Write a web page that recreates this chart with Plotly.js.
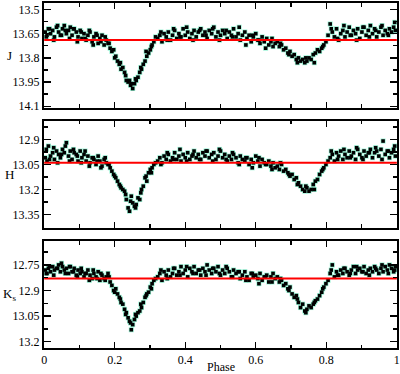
<!DOCTYPE html>
<html><head><meta charset="utf-8">
<script src="https://cdn.plot.ly/plotly-3.0.1.min.js"></script>
<style>html,body{margin:0;padding:0;background:#fff}#chart{width:400px;height:374px}</style>
</head><body><div id="chart"></div>
<script>
const phase = [
0.003,0.008,0.012,0.018,0.024,0.029,0.035,0.041,0.046,0.052,
0.057,0.063,0.069,0.074,0.079,0.085,0.091,0.096,0.102,0.107,
0.113,0.119,0.124,0.130,0.136,0.141,0.147,0.153,0.158,0.164,
0.170,0.176,0.181,0.187,
0.192,0.197,0.203,0.208,0.213,0.218,0.223,0.228,0.233,0.238,
0.242,0.247,0.251,0.256,0.261,0.266,0.271,0.276,0.281,0.286,
0.291,0.296,0.301,0.306,0.311,0.316,
0.322,0.328,0.334,0.340,0.346,0.352,0.358,0.364,0.370,0.376,
0.382,0.388,0.394,0.400,0.407,0.413,0.419,0.425,0.431,0.437,
0.444,0.450,0.456,0.462,0.468,0.475,0.481,0.487,0.493,0.500,
0.506,0.512,0.519,0.525,0.531,0.537,0.544,0.550,0.556,0.562,
0.569,0.575,0.581,0.587,0.593,0.600,0.606,0.612,0.618,0.624,
0.631,0.637,0.643,0.649,0.655,
0.661,0.667,0.673,0.679,0.685,0.691,0.697,0.703,0.709,0.715,
0.721,0.727,0.733,0.739,0.745,0.751,0.757,0.763,0.769,0.775,
0.781,0.787,0.793,0.799,0.805,
0.811,0.817,0.823,0.829,0.835,0.841,0.847,0.853,0.859,0.865,
0.871,0.877,0.883,0.889,0.895,0.901,0.907,0.913,0.919,0.925,
0.931,0.937,0.943,0.949,0.955,0.961,0.967,0.973,0.979,0.985,
0.991,0.996,
0.006,0.015,0.027,0.038,0.049,0.060,0.072,0.083,0.094,0.105,
0.116,0.128,0.139,0.150,0.161,0.173,0.184,
0.200,0.216,0.231,0.245,0.259,0.274,0.289,0.304,
0.331,0.349,0.367,0.385,0.404,0.422,0.441,0.459,0.478,0.497,
0.516,0.534,0.553,0.572,0.590,0.609,0.628,0.646,
0.670,0.694,0.718,0.742,0.766,0.790,
0.814,0.832,0.850,0.868,0.886,0.904,0.922,0.940,0.958,0.976,
0.994
];
const magJ = [
13.64,13.66,13.62,13.65,13.63,13.67,13.61,13.64,13.66,13.62,
13.60,13.65,13.63,13.61,13.66,13.62,13.64,13.67,13.63,13.68,
13.65,13.69,13.66,13.64,13.70,13.67,13.65,13.71,13.68,13.66,
13.72,13.69,13.71,13.74,
13.76,13.75,13.79,13.82,13.84,13.87,13.86,13.89,13.94,13.95,
13.94,13.96,13.99,13.96,13.94,13.92,13.89,13.87,13.84,13.82,
13.79,13.77,13.75,13.72,13.70,13.67,
13.68,13.66,13.70,13.65,13.67,13.64,13.69,13.66,13.63,13.68,
13.65,13.67,13.62,13.66,13.64,13.68,13.65,13.63,13.67,13.64,
13.62,13.66,13.64,13.68,13.63,13.65,13.61,13.67,13.64,13.66,
13.63,13.65,13.68,13.64,13.66,13.62,13.67,13.65,13.69,13.66,
13.64,13.68,13.66,13.70,13.67,13.65,13.69,13.71,13.67,13.70,
13.68,13.72,13.70,13.73,13.71,
13.70,13.73,13.72,13.75,13.74,13.77,13.76,13.79,13.78,13.81,
13.80,13.82,13.81,13.83,13.82,13.80,13.81,13.78,13.77,13.75,
13.76,13.74,13.72,13.70,13.66,
13.59,13.64,13.67,13.62,13.69,13.65,13.63,13.67,13.64,13.61,
13.66,13.63,13.65,13.62,13.68,13.64,13.61,13.66,13.63,13.60,
13.65,13.62,13.67,13.64,13.61,13.66,13.63,13.65,13.62,13.64,
13.61,13.63,
13.67,13.62,13.69,13.60,13.66,13.63,13.68,13.62,13.70,13.64,
13.68,13.63,13.72,13.66,13.70,13.67,13.71,
13.80,13.83,13.91,13.97,13.93,13.86,13.76,13.73,
13.64,13.69,13.62,13.67,13.61,13.69,13.63,13.66,13.62,13.69,
13.63,13.67,13.61,13.72,13.66,13.69,13.74,13.68,
13.71,13.78,13.83,13.80,13.83,13.73,
13.62,13.68,13.60,13.66,13.69,13.61,13.67,13.63,13.60,13.66,
13.58
];
const magH = [
13.01,13.03,12.94,13.00,12.98,13.02,12.97,12.99,13.01,12.96,
12.98,12.92,13.00,12.97,13.02,12.98,12.99,13.03,12.97,13.01,
12.99,13.03,13.00,13.04,13.01,13.02,13.05,13.00,13.03,13.06,
13.02,13.04,13.05,13.07,
13.09,13.11,13.13,13.15,13.17,13.19,13.20,13.21,13.26,13.31,
13.33,13.24,13.28,13.30,13.29,13.25,13.26,13.20,13.18,13.13,
13.15,13.10,13.08,13.07,13.05,13.04,
13.03,13.01,13.04,13.00,13.02,12.99,13.03,13.01,12.98,13.02,
13.00,13.03,12.99,13.01,12.98,13.02,13.00,12.97,13.01,12.99,
13.02,12.98,13.00,12.97,13.01,12.99,12.98,13.02,13.00,12.97,
13.01,12.99,13.03,13.00,13.02,12.99,13.01,13.04,13.00,13.02,
13.03,13.01,13.05,13.02,13.04,13.00,13.03,13.06,13.02,13.04,
13.05,13.03,13.06,13.04,13.07,
13.06,13.08,13.05,13.09,13.08,13.10,13.12,13.11,13.14,13.13,
13.16,13.18,13.20,13.21,13.19,13.21,13.20,13.17,13.15,13.14,
13.11,13.09,13.07,13.05,13.03,
13.01,12.99,13.03,12.98,13.00,12.97,13.02,12.99,13.01,12.97,
13.00,12.98,13.02,12.96,12.99,13.01,12.97,13.00,12.98,12.96,
13.01,12.98,12.97,13.00,12.96,12.91,12.99,12.97,13.01,12.98,
12.96,13.00,
12.96,13.02,12.95,13.04,12.99,12.94,13.03,12.96,13.00,13.04,
12.97,13.06,13.01,13.03,13.07,13.01,13.05,
13.12,13.18,13.23,13.27,13.31,13.22,13.12,13.10,
13.05,12.98,13.02,12.96,13.03,12.99,13.02,12.97,13.03,12.96,
13.02,12.98,13.05,13.01,13.07,13.01,13.05,13.08,
13.04,13.11,13.17,13.18,13.20,13.08,
12.97,13.02,12.96,13.01,12.95,13.02,12.98,12.95,13.02,12.97,
12.94
];
const magKs = [
12.78,12.80,12.77,12.79,12.76,12.78,12.77,12.75,12.79,12.76,
12.78,12.77,12.80,12.76,12.79,12.77,12.81,12.78,12.80,12.79,
12.82,12.80,12.78,12.81,12.83,12.80,12.82,12.79,12.84,12.81,
12.83,12.82,12.80,12.85,
12.87,12.90,12.89,12.92,12.94,12.97,12.98,13.01,13.03,13.06,
13.08,13.13,13.10,13.07,13.05,13.03,13.02,13.00,12.97,12.94,
12.92,12.91,12.88,12.86,12.84,12.83,
12.82,12.80,12.84,12.79,12.81,12.78,12.82,12.80,12.77,12.81,
12.79,12.76,12.80,12.78,12.82,12.77,12.79,12.76,12.80,12.78,
12.81,12.77,12.79,12.75,12.78,12.80,12.77,12.79,12.76,12.81,
12.78,12.80,12.77,12.79,12.82,12.78,12.80,12.79,12.83,12.81,
12.79,12.82,12.84,12.80,12.82,12.81,12.83,12.80,12.84,12.82,
12.81,12.85,12.82,12.80,12.83,
12.82,12.85,12.84,12.87,12.86,12.89,12.88,12.92,12.94,12.93,
12.97,13.00,12.98,13.02,13.01,12.99,13.00,12.98,12.96,12.95,
12.93,12.91,12.88,12.86,12.84,
12.80,12.75,12.82,12.79,12.81,12.78,12.80,12.77,12.79,12.81,
12.78,12.76,12.80,12.78,12.77,12.79,12.76,12.80,12.78,12.77,
12.79,12.76,12.78,12.80,12.77,12.79,12.76,12.78,12.75,12.77,
12.79,12.76,
12.80,12.76,12.81,12.77,12.74,12.80,12.76,12.79,12.82,12.77,
12.80,12.84,12.78,12.83,12.80,12.84,12.82,
12.91,12.95,13.04,13.09,13.04,12.98,12.93,12.89,
12.78,12.83,12.77,12.81,12.76,12.80,12.78,12.81,12.77,12.80,
12.76,12.82,12.79,12.84,12.80,12.86,12.82,12.85,
12.83,12.90,12.95,13.03,12.97,12.89,
12.78,12.81,12.77,12.80,12.76,12.79,12.81,12.77,12.75,12.80,
12.78
];
const meanMag = [13.69, 13.04, 12.83];
const bandLabels = ['J', 'H', 'K<sub>s</sub>'];
const yTickVals = [[13.5,13.65,13.8,13.95,14.1],[12.9,13.05,13.2,13.35],[12.75,12.9,13.05,13.2]];
const yTickText = [['13.5','13.65','13.8','13.95','14.1'],['12.9','13.05','13.2','13.35'],['12.75','12.9','13.05','13.2']];
const yRanges = [[14.11,13.46],[13.43,12.79],[13.237,12.61]];
const xTickVals = [0,0.2,0.4,0.6,0.8,1];
const xTickText = ['0','0.2','0.4','0.6','0.8','1'];
const xMinorVals = [0.1,0.3,0.5,0.7,0.9];
const xTitle = 'Phase';

const mags = [magJ, magH, magKs];
const domains = [[0.696,1],[0.348,0.658],[0,0.310]];
const FONT = "'Liberation Serif', 'Times New Roman', serif";

const traces = [];
const layout = {
  width: 400, height: 374,
  margin: {l: 44, r: 3, t: 3, b: 26},
  paper_bgcolor: '#fff', plot_bgcolor: '#fff',
  showlegend: false,
  font: {family: FONT, size: 12, color: '#000'},
  annotations: []
};
mags.forEach((m, i) => {
  const s = i === 0 ? '' : String(i + 1);
  traces.push({x: phase, y: m, xaxis: 'x' + s, yaxis: 'y' + s, type: 'scatter', mode: 'markers',
    marker: {symbol: 'square', size: 5, color: '#98f2d4'}, hoverinfo: 'skip'});
  traces.push({x: phase, y: m, xaxis: 'x' + s, yaxis: 'y' + s, type: 'scatter', mode: 'markers',
    marker: {symbol: 'square', size: 3.6, color: '#000'}});
  traces.push({x: [0, 1], y: [meanMag[i], meanMag[i]], xaxis: 'x' + s, yaxis: 'y' + s, type: 'scatter', mode: 'lines',
    line: {color: '#ff0000', width: 2}});
  const tv = yTickVals[i];
  const step = tv[1] - tv[0];
  const minorVals = [tv[0] - step / 2].concat(tv.map(v => v + step / 2));
  layout['xaxis' + s] = {
    domain: [0, 1], anchor: 'y' + s, range: [-0.0005, 1.0005],
    tickmode: 'array', tickvals: xTickVals, ticktext: xTickText,
    showticklabels: i === 2, ticklabeloverflow: 'allow',
    ticks: 'inside', ticklen: 6, tickwidth: 1.4, tickcolor: '#000',
    minor: {tickmode: 'array', tickvals: xMinorVals, ticks: 'inside', ticklen: 3.5, tickwidth: 1.4, tickcolor: '#000'},
    showline: true, linewidth: 2, linecolor: '#000', mirror: 'allticks',
    showgrid: false, zeroline: false, fixedrange: true,
    tickfont: {family: FONT, size: 12, color: '#000'}
  };
  layout['yaxis' + s] = {
    domain: domains[i], anchor: 'x' + s, range: yRanges[i],
    tickmode: 'array', tickvals: tv, ticktext: yTickText[i],
    ticks: 'inside', ticklen: 7, tickwidth: 1.4, tickcolor: '#000',
    minor: {tickmode: 'array', tickvals: minorVals, ticks: 'inside', ticklen: 4, tickwidth: 1.4, tickcolor: '#000'},
    showline: true, linewidth: 2, linecolor: '#000', mirror: 'allticks',
    showgrid: false, zeroline: false, fixedrange: true,
    tickfont: {family: FONT, size: 12, color: '#000'}
  };
  layout.annotations.push({text: bandLabels[i], xref: 'paper', x: -0.098, xanchor: 'center',
    yref: 'y' + s + ' domain', y: 0.5, yanchor: 'middle', showarrow: false,
    font: {family: FONT, size: 13, color: '#000'}});
});
layout.annotations.push({text: xTitle, xref: 'paper', x: 0.5, xanchor: 'center', yref: 'paper', y: -0.055,
  yanchor: 'middle', showarrow: false, font: {family: FONT, size: 12, color: '#000'}});
Plotly.newPlot('chart', traces, layout, {displayModeBar: false, staticPlot: true});
</script>
</body></html>
